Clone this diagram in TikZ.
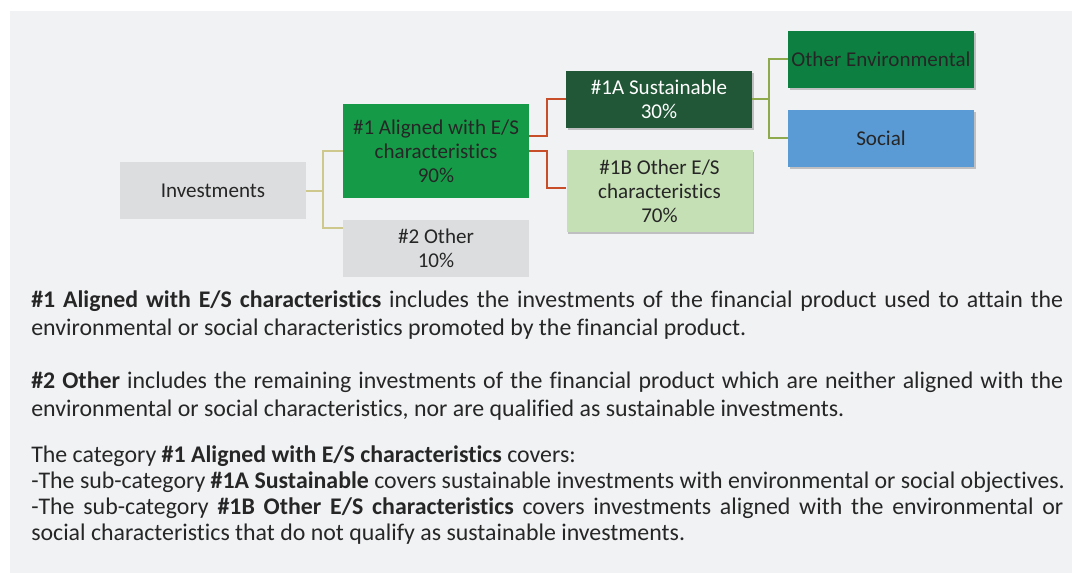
\documentclass[tikz,border=0pt]{standalone}
\usepackage{fontspec}
\setmainfont{Carlito}[Ligatures={NoCommon}]
\usetikzlibrary{positioning,calc,shadows}
\definecolor{PanelGrey}{RGB}{241,242,244}
\definecolor{BoxGrey}{RGB}{220,221,223}
\definecolor{AlignGreen}{RGB}{21,155,72}
\definecolor{SustGreen}{RGB}{33,87,55}
\definecolor{OtherGreen}{RGB}{197,224,180}
\definecolor{EnvGreen}{RGB}{13,128,65}
\definecolor{SocialBlue}{RGB}{91,155,213}
\definecolor{TextDark}{RGB}{38,38,38}
\definecolor{LinkKhaki}{RGB}{206,200,140}
\definecolor{LinkRed}{RGB}{200,78,42}
\definecolor{LinkOlive}{RGB}{143,170,76}
\tikzset{
  catbox/.style={minimum width=139.5pt, minimum height=42.75pt, inner sep=1pt, align=center,
    text=TextDark, font=\fontsize{15.8}{18}\selectfont},
  shadebox/.style={catbox, drop shadow={shadow xshift=1.2pt, shadow yshift=-1.8pt, opacity=0.3, fill=black!70}},
  linkline/.style={line width=1.5pt},
  bodytext/.style={anchor=base west, inner sep=0pt, text width=774pt, align=justify, text=TextDark,
    font=\fontsize{17.9}{21}\selectfont},
}
\hyphenpenalty=10000

\begin{document}
\begin{tikzpicture}[x=0.75pt, y=-0.75pt]
  \useasboundingbox (0,0) rectangle (1072,573);
  \fill[white] (0,0) rectangle (1072,573);
  \fill[PanelGrey] (10,11) rectangle (1072,573);

  % boxes
  \node[catbox, fill=BoxGrey] (inv) at (213,191) {Investments};
  \node[catbox, fill=AlignGreen, minimum height=70.5pt] (al) at (436,151) {\#1 Aligned with E/S\\characteristics\\90\%};
  \node[catbox, fill=BoxGrey] (oth) at (436,248.5) {\#2 Other\\10\%};
  \node[shadebox, fill=SustGreen, text=white] (sus) at (659,99.5) {\#1A Sustainable\\30\%};
  \node[shadebox, fill=OtherGreen, minimum height=61.5pt] (obs) at (659.5,191) {\#1B Other E/S\\characteristics\\70\%};
  \node[shadebox, fill=EnvGreen] (env) at (881,59.5) {Other Environmental};
  \node[shadebox, fill=SocialBlue] (soc) at (881,138.5) {Social};

  % connectors
  \coordinate (othin) at ($(oth.west)+(0,-20.5)$);
  \draw[linkline, LinkKhaki] (inv.east) -- ++(17,0) |- (al.west);
  \draw[linkline, LinkKhaki] (inv.east) -- ++(17,0) |- (othin);
  \draw[linkline, LinkRed] (al.east) ++(0,-15) -- ++(18,0) |- (sus.west);
  \draw[linkline, LinkRed] (al.east) -- ++(18,0) |- ($(obs.west)+(0,-3)$);
  \draw[linkline, LinkOlive] (sus.east) -- ++(17,0) |- (env.west);
  \draw[linkline, LinkOlive] (sus.east) -- ++(17,0) |- (soc.west);

  % explanations
  \node[bodytext] (p1) at (31,308)
    {\textbf{\#1 Aligned with E/S characteristics} includes the investments of the financial product used to attain the\linebreak
     environmental or social characteristics promoted by the financial product.};
  \node[bodytext] (p2) at (31,389)
    {\textbf{\#2 Other} includes the remaining investments of the financial product which are neither aligned with the\linebreak
     environmental or social characteristics, nor are qualified as sustainable investments.};
  \node[bodytext, font=\fontsize{17.9}{19.4}\selectfont] (p3) at (31,463)
    {The category \textbf{\#1 Aligned with E/S characteristics} covers:\\
     \mbox{-The sub-category \textbf{\#1A Sustainable} covers sustainable investments with environmental or social objectives.}\\
     -The sub-category \textbf{\#1B Other E/S characteristics} covers investments aligned with the environmental or\linebreak
     social characteristics that do not qualify as sustainable investments.};
\end{tikzpicture}
\end{document}
